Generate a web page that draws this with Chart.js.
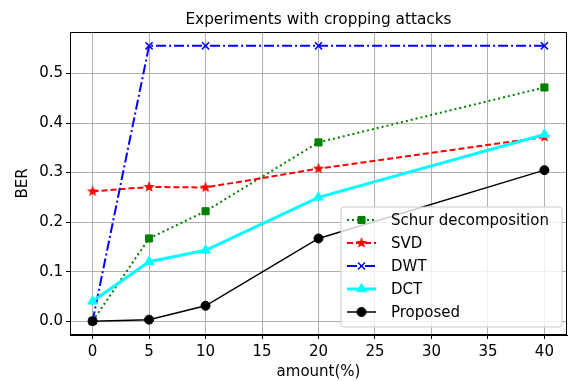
<!DOCTYPE html>
<html>
<head>
<meta charset="utf-8">
<script src="https://cdn.jsdelivr.net/npm/chart.js@4"></script>
<style>
  html, body { margin: 0; padding: 0; background: #fff; }
  #wrap { width: 576px; height: 381px; }
</style>
</head>
<body>
<div id="wrap"><canvas id="berChart" width="576" height="381"></canvas></div>
<script>
// amount of cropping (%)
const amounts = [0, 5, 10, 20, 40];
const xTicks = [0, 5, 10, 15, 20, 25, 30, 35, 40];
const yTicks = [0.0, 0.1, 0.2, 0.3, 0.4, 0.5];

const schurBER = [0.0, 0.167, 0.222, 0.361, 0.472];
const svdBER = [0.262, 0.271, 0.270, 0.308, 0.372];
const dwtBER = [0.0, 0.556, 0.556, 0.556, 0.556];
const dctBER = [0.040, 0.120, 0.143, 0.250, 0.377];
const proposedBER = [0.0, 0.003, 0.031, 0.167, 0.305];

const FONT = "'DejaVu Sans', sans-serif";

function pts(vals) {
    return vals.map((v, i) => ({ x: amounts[i], y: v }));
}

// filled five point star marker (Chart.js 'star' is only an asterisk)
function makeStar(r, color) {
    const c = document.createElement('canvas');
    c.width = c.height = r * 2 + 2;
    const g = c.getContext('2d');
    const cx = r + 1, cy = r + 1;
    g.beginPath();
    for (let i = 0; i < 10; i++) {
        const rad = i % 2 === 0 ? r : r * 0.42;
        const a = -Math.PI / 2 + i * Math.PI / 5;
        const px = cx + rad * Math.cos(a), py = cy + rad * Math.sin(a);
        if (i === 0) g.moveTo(px, py); else g.lineTo(px, py);
    }
    g.closePath();
    g.fillStyle = color;
    g.fill();
    return c;
}
const starImg = makeStar(6, '#ff0000');

// frame, title and in-plot legend
const extras = {
    id: 'extras',
    afterDraw(chart) {
        const ctx = chart.ctx;
        const a = chart.chartArea;
        ctx.save();
        ctx.strokeStyle = '#000';
        ctx.lineWidth = 1;
        ctx.strokeRect(a.left + 0.5, a.top + 0.5, a.right - a.left - 1, a.bottom - a.top - 1);

        ctx.fillStyle = '#000';
        ctx.font = '15.3px ' + FONT;
        ctx.textAlign = 'center';
        ctx.textBaseline = 'middle';
        ctx.fillText('Experiments with cropping attacks', (a.left + a.right) / 2, 20);

        // legend box
        const bx = 341, by = 207, bw = 221, bh = 120;
        ctx.beginPath();
        if (ctx.roundRect) ctx.roundRect(bx, by, bw, bh, 3); else ctx.rect(bx, by, bw, bh);
        ctx.fillStyle = 'rgba(255,255,255,0.8)';
        ctx.fill();
        ctx.strokeStyle = '#cccccc';
        ctx.stroke();

        chart.data.datasets.forEach((ds, i) => {
            const y = 220 + i * 23;
            ctx.save();
            ctx.strokeStyle = ds.borderColor;
            ctx.lineWidth = ds.borderWidth;
            ctx.setLineDash(ds.borderDash || []);
            ctx.beginPath();
            ctx.moveTo(347, y);
            ctx.lineTo(376, y);
            ctx.stroke();
            ctx.setLineDash([]);
            ctx.fillStyle = ds.pointBackgroundColor;
            ctx.strokeStyle = ds.pointBorderColor;
            ctx.lineWidth = ds.pointBorderWidth;
            Chart.helpers.drawPoint(ctx, {
                pointStyle: ds.pointStyle,
                radius: ds.pointRadius,
                rotation: 0,
                borderWidth: ds.pointBorderWidth
            }, 361.5, y);
            ctx.restore();
            ctx.fillStyle = '#000';
            ctx.font = '15px ' + FONT;
            ctx.textAlign = 'left';
            ctx.textBaseline = 'middle';
            ctx.fillText(ds.label, 391, y + 1);
        });
        ctx.restore();
    }
};

new Chart(document.getElementById('berChart'), {
    type: 'line',
    data: {
        datasets: [{
            label: 'Schur decomposition',
            data: pts(schurBER),
            borderColor: '#008000',
            borderWidth: 2,
            borderDash: [2, 3],
            pointStyle: 'rect',
            pointRadius: 5,
            pointBackgroundColor: '#008000',
            pointBorderColor: '#008000',
            pointBorderWidth: 1,
            order: 4
        }, {
            label: 'SVD',
            data: pts(svdBER),
            borderColor: '#ff0000',
            borderWidth: 2,
            borderDash: [6, 3],
            pointStyle: starImg,
            pointRadius: 6,
            pointBackgroundColor: '#ff0000',
            pointBorderColor: '#ff0000',
            pointBorderWidth: 1,
            order: 3
        }, {
            label: 'DWT',
            data: pts(dwtBER),
            borderColor: '#0000ff',
            borderWidth: 2,
            borderDash: [10, 3, 2, 3],
            pointStyle: 'crossRot',
            pointRadius: 5,
            pointBackgroundColor: '#0000ff',
            pointBorderColor: '#0000ff',
            pointBorderWidth: 1.5,
            order: 2
        }, {
            label: 'DCT',
            data: pts(dctBER),
            borderColor: '#00ffff',
            borderWidth: 3,
            pointStyle: 'triangle',
            pointRadius: 5.5,
            pointBackgroundColor: '#00ffff',
            pointBorderColor: '#00ffff',
            pointBorderWidth: 1,
            order: 1
        }, {
            label: 'Proposed',
            data: pts(proposedBER),
            borderColor: '#000000',
            borderWidth: 1.5,
            pointStyle: 'circle',
            pointRadius: 4.5,
            pointBackgroundColor: '#000000',
            pointBorderColor: '#000000',
            pointBorderWidth: 1,
            order: 0
        }]
    },
    options: {
        responsive: false,
        animation: false,
        layout: { padding: { top: 32, right: 9, left: 0, bottom: 0 } },
        plugins: {
            legend: { display: false },
            title: { display: false },
            tooltip: { enabled: false }
        },
        scales: {
            x: {
                type: 'linear',
                min: -2,
                max: 42,
                afterBuildTicks: s => { s.ticks = xTicks.map(v => ({ value: v })); },
                afterFit: s => { s.height = 46; },
                grid: { color: '#b0b0b0', tickColor: '#000', tickLength: 4, lineWidth: 1 },
                border: { color: '#000' },
                ticks: { color: '#000', font: { family: FONT, size: 15 }, padding: 4, maxRotation: 0 },
                title: { display: true, text: 'amount(%)', color: '#000', font: { family: FONT, size: 15 }, padding: { top: 1, bottom: 0 } }
            },
            y: {
                min: -0.028,
                max: 0.584,
                afterBuildTicks: s => { s.ticks = yTicks.map(v => ({ value: v })); },
                afterFit: s => { s.width = 70; },
                grid: { color: '#b0b0b0', tickColor: '#000', tickLength: 4, lineWidth: 1 },
                border: { color: '#000' },
                ticks: { color: '#000', font: { family: FONT, size: 15 }, padding: 3, callback: v => v.toFixed(1) },
                title: { display: true, text: 'BER', color: '#000', font: { family: FONT, size: 15 }, padding: { top: 14, bottom: 4 } }
            }
        }
    },
    plugins: [extras]
});
</script>
</body>
</html>
